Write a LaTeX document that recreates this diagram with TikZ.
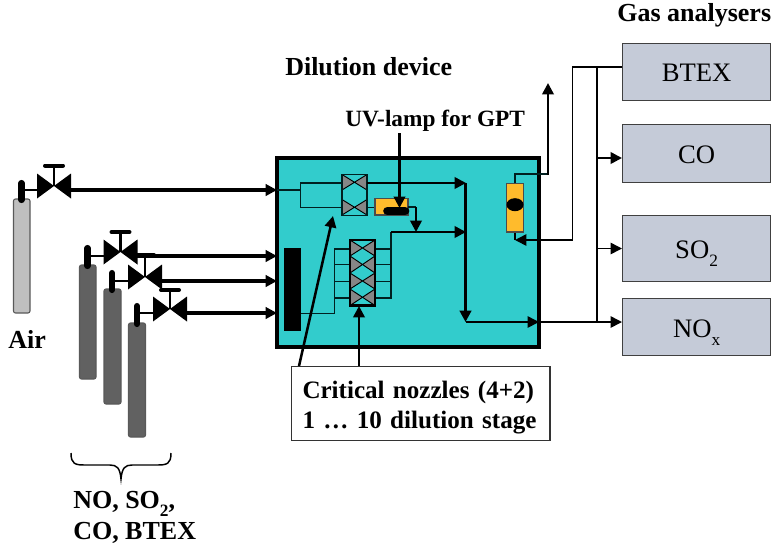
\documentclass[tikz,border=0pt]{standalone}
\usepackage{fontspec}
\setmainfont{Liberation Serif}
\usetikzlibrary{arrows.meta}
\definecolor{boxgrey}{RGB}{197,203,216}
\definecolor{devteal}{RGB}{50,204,204}
\definecolor{lampor}{RGB}{255,187,44}
\tikzset{
  x=0.75pt,y=-0.75pt,
  thin line/.style={draw=black,line width=0.8pt},
  teal line/.style={draw=black!75!teal,line width=0.9pt},
  flowthick/.style={draw=black,line width=2.5pt,-{Triangle[length=8.5pt,width=8.5pt]}},
  flow/.style={draw=black,line width=1.9pt,-{Triangle[length=8.5pt,width=8.5pt]}},
  flowthin/.style={draw=black,line width=1.2pt,-{Triangle[length=8.5pt,width=8.5pt]}},
  gasbox/.style={draw=black!75,line width=0.9pt,fill=boxgrey,inner sep=0pt,minimum width=111pt,text height=15.2pt,text depth=0pt,font=\fontsize{20}{22}\selectfont},
  bold label/.style={font=\fontsize{19.5}{23}\selectfont\bfseries,inner sep=0pt,align=left},
}
\newcommand{\subtxt}[1]{\raisebox{-0.3em}{\fontsize{13}{13}\selectfont #1}}
\newcommand{\cyl}[6]{%
  \draw[draw=black!65,fill=#6,line width=0.8pt,rounded corners=1.5pt] (#2,#4) rectangle (#3,#5);
}
\newcommand{\neck}[3]{\draw[line width=4.6pt,line cap=round] (#1,#2) -- (#1,#3);}
\newcommand{\valve}[4]{%
  \coordinate (#4) at (#1,#2);
  \fill (#1-17,#2-12.5) -- (#1,#2) -- (#1-17,#2+12.5) -- cycle;
  \fill (#1+17,#2-12.5) -- (#1,#2) -- (#1+17,#2+12.5) -- cycle;
  \draw[line width=1.6pt] (#1,#2) -- (#1,#3);
  \draw[line width=3pt,line cap=round] (#1-9,#3) -- (#1+9,#3);
  \coordinate (#4-l) at (#1-17,#2+4);
  \coordinate (#4-r) at (#1+15,#2+4);
}
\newcommand{\nozzleunit}[3]{%
  \fill[gray!95] (#1,#2) -- (#1+12.5,{(#2+#3)/2}) -- (#1,#3) -- cycle;
  \fill[gray!95] (#1+25,#2) -- (#1+12.5,{(#2+#3)/2}) -- (#1+25,#3) -- cycle;
  \draw[line width=0.7pt] (#1,#2) -- (#1+25,#3) (#1+25,#2) -- (#1,#3);
}
\begin{document}
\begin{tikzpicture}
\useasboundingbox (0,0) rectangle (774,551);

% device
\draw[line width=2.6pt,fill=devteal] (277,158) rectangle (539,347);
\coordinate (dev-a) at (277,190);
\coordinate (dev-b) at (277,256);
\coordinate (dev-c) at (277,281);
\coordinate (dev-d) at (277,313);

% cylinders
\cyl{air}{13.5}{30}{199}{313}{gray!50}
\cyl{c1}{79.5}{96}{265}{379}{black!62}
\cyl{c2}{104}{121}{289}{404}{black!62}
\cyl{c3}{128.5}{145.5}{323}{437}{black!62}
\neck{21.5}{183}{200}
\neck{87.5}{248}{266}
\neck{112}{273}{290}
\neck{137}{306}{324}

% valves
\valve{54}{186}{165.5}{v0}
\valve{120.5}{252}{232}{v1}
\valve{145}{277}{255}{v2}
\valve{170}{309}{290}{v3}

\coordinate (n0) at (21.5,190);
\coordinate (n1) at (87.5,256);
\coordinate (n2) at (112,281);
\coordinate (n3) at (137,313);
\draw[thin line] (n0) -- (v0-l);
\draw[thin line] (n1) -- (v1-l);
\draw[thin line] (n2) -- (v2-l);
\draw[thin line] (n3) -- (v3-l);
\draw[flowthick] (v0-r) -- (dev-a);
\draw[flowthick] (v1-r) -- (dev-b);
\draw[flowthick] (v2-r) -- (dev-c);
\draw[flowthick] (v3-r) -- (dev-d);

% inlet manifold
\draw[teal line] (dev-a) -- (300.7,190) (342,183) -- (300.7,183) -- (300.7,207.7) -- (342,207.7);
% upper nozzles
\nozzleunit{342}{174.5}{190}
\nozzleunit{342}{199.5}{215}
\draw[teal line] (342,174.5) rectangle (367,215.5);
% lower manifold
\fill (284,248) rectangle (301,331);
\draw[teal line] (301,313.7) -- (334.7,313.7) -- (334.7,249) -- (350,249)
  (334.7,264.7) -- (350,264.7) (334.7,281.7) -- (350,281.7) (334.7,298) -- (350,298);
\draw[teal line] (375,249) -- (391,249) (375,264.7) -- (391,264.7) (375,281.7) -- (391,281.7) (375,298) -- (391,298) -- (391,232);
\nozzleunit{350}{240}{256}
\nozzleunit{350}{256}{273}
\nozzleunit{350}{273}{289}
\nozzleunit{350}{289}{305.5}
\draw[line width=1.6pt] (350,240) rectangle (375,305.5);

% lamp
\draw[teal line] (367,207.7) -- (375,207.7);
\draw[draw=black!70,fill=lampor,line width=0.8pt] (375,198.5) rectangle (408,215);
\draw[line width=6.5pt,line cap=round] (387.5,211) -- (405,211);
\draw[teal line] (408,207) -- (416,207);
\draw[flow] (416,207) -- (416,232);
% outflows
\draw[flow] (367,183) -- (466,183);
\draw[flow] (391,232) -- (466,232);
\draw[flowthick] (465.5,183) -- (465.5,322);

% gas boxes
\node[gasbox,minimum height=43pt,anchor=north west] (btex) at (622,42.5) {BTEX};
\node[gasbox,minimum height=43.5pt,anchor=north west] (co) at (622,124) {CO};
\node[gasbox,minimum height=49.5pt,anchor=north west] (so2) at (622,215) {SO\subtxt{2}};
\node[gasbox,minimum height=42.75pt,anchor=north west] (nox) at (622,298) {NO\subtxt{x}};

\coordinate (mid) at (539,322);
\draw[flowthin] (465.5,322) -- (mid);
\draw[flowthin] (mid) -- (nox.west |- mid);
\draw[thin line] (597,67) -- (597,322);
\draw[flow] (597,158) -- (co.west |- 0,158);
\draw[flowthin] (597,248.5) -- (so2.west |- 0,248.5);
\draw[thin line] (btex.west |- 0,67) -- (572.7,67) -- (572.7,240);
\draw[flowthin] (572.7,240) -- (515,240);

% second lamp
\draw[thin line] (515,240) -- (515,232);
\draw[draw=black!70,fill=lampor,line width=0.8pt] (506.7,183.3) rectangle (523.7,232);
\fill (515,204.7) ellipse [x radius=8.5,y radius=6.5];
\draw[teal line] (515,183.3) -- (515,174) -- (548,174);
\draw[flow] (548,175) -- (548,83);

% labels
\node[bold label,anchor=west] (gas) at (617,15) {Gas analysers};
\node[bold label,anchor=west] (dil) at (285,67) {Dilution device};
\node[bold label,anchor=west,font=\fontsize{17.5}{20}\selectfont\bfseries] (uv) at (345,121) {UV-lamp for GPT};
\node[bold label,anchor=west] (air) at (8,339) {Air};
\node[bold label,anchor=north west,font=\fontsize{19.5}{23}\selectfont\bfseries] (mix) at (73,491) {NO, SO\subtxt{2},\\CO, BTEX};
\node[draw=black!80,fill=white,line width=1pt,anchor=north west,minimum width=194pt,minimum height=55.5pt,text width=177pt,inner sep=0pt,align=left,font=\fontsize{18.8}{23}\selectfont\bfseries] (crit) at (290.5,366) {\rule{0pt}{19pt}Critical nozzles (4+2)\\1 … 10 dilution stage};

\coordinate (uvfoot) at (399.5,133);
\draw[flow] (uvfoot) -- (399.5,208);
\draw[flow] (crit.north -| 299,0) -- (333,216);
\draw[flow] (crit.north -| 359,0) -- (359,306);

% brace
\draw[line width=1.1pt] (71,453) .. controls (71,464) and (75,465) .. (85,465) -- (110,465) .. controls (117,465) and (120,468) .. (121,479) .. controls (122,468) and (125,465) .. (132,465) -- (157,465) .. controls (167,465) and (171,464) .. (171,453);
\end{tikzpicture}
\end{document}
